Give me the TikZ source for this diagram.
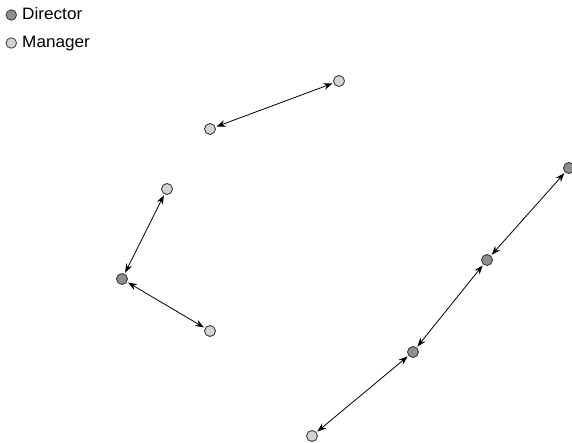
\documentclass[tikz,border=0pt]{standalone}
\usepackage{fontspec}
\setmainfont{Liberation Sans}
\usetikzlibrary{arrows.meta}
\definecolor{dirfill}{HTML}{8E8E8E}
\definecolor{manfill}{HTML}{D4D4D4}
\definecolor{edgec}{HTML}{3A3A3A}
\begin{document}
\begin{tikzpicture}[x=1pt,y=-1pt,
  director/.style={circle,draw=edgec,fill=dirfill,line width=0.9pt,minimum size=11pt,inner sep=0pt},
  manager/.style={circle,draw=edgec,fill=manfill,line width=0.9pt,minimum size=11pt,inner sep=0pt},
  legdot/.style={circle,draw=edgec,line width=0.8pt,minimum size=10.5pt,inner sep=0pt},
  legtext/.style={anchor=base west,inner sep=0pt,font=\fontsize{16.5}{18}\selectfont,xscale=1.04},
  link/.style={line width=0.8pt,{Stealth[length=9pt,width=6.5pt]}-{Stealth[length=9pt,width=6.5pt]},shorten <=1pt,shorten >=1pt}]
\useasboundingbox (0,0) rectangle (572,442);
% legend
\node[legdot,fill=dirfill] (ld) at (11.3,15) {};
\node[legtext] (ldt) at (22,19.5) {Director};
\node[legdot,fill=manfill] (lm) at (11.3,43) {};
\node[legtext] (lmt) at (22,47.5) {Manager};
% nodes
\node[manager] (m1) at (339,81) {};
\node[manager] (m2) at (210,129) {};
\node[manager] (m3) at (167,189) {};
\node[director] (d1) at (122,279) {};
\node[manager] (m4) at (210,331) {};
\node[director] (d2) at (569,168) {};
\node[director] (d3) at (487,260) {};
\node[director] (d4) at (413,352) {};
\node[manager] (m5) at (312,436) {};
% links
\draw[link] (m2) -- (m1);
\draw[link] (d1) -- (m3);
\draw[link] (d1) -- (m4);
\draw[link] (d3) -- (d2);
\draw[link] (d4) -- (d3);
\draw[link] (m5) -- (d4);
\end{tikzpicture}
\end{document}
